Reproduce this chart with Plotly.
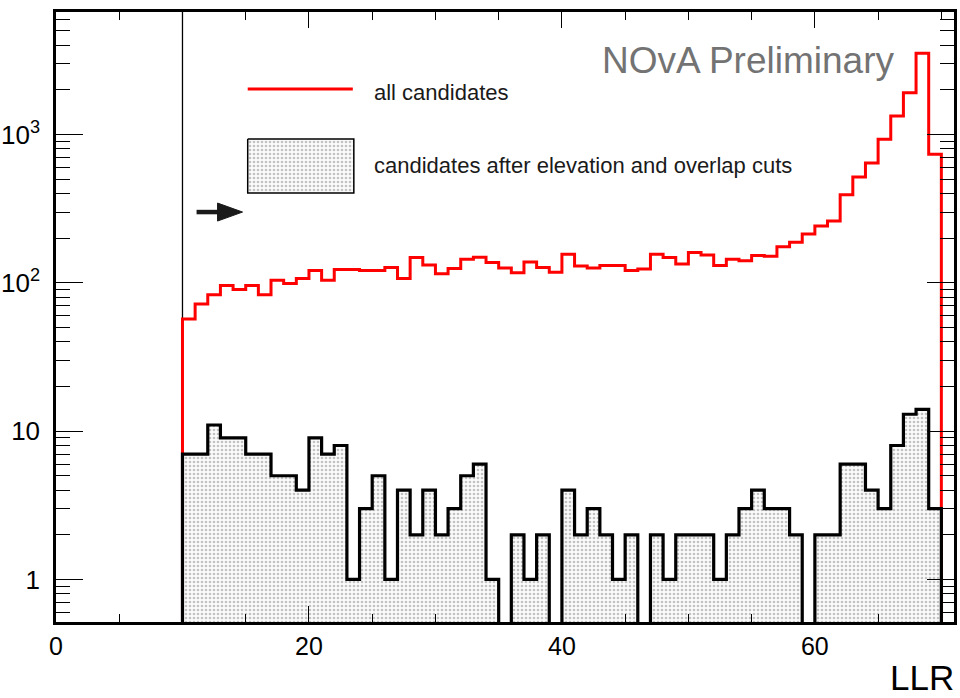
import plotly.graph_objects as go

# ---------------- data ----------------
bin_edges = list(range(0, 71))  # LLR bins of width 1 from 0 to 70
all_candidates = [0, 0, 0, 0, 0, 0, 0, 0, 0, 0,
                  57, 72, 83, 96, 90, 96, 83, 104, 99, 107,
                  121, 104, 123, 123, 121, 121, 127, 107, 148, 132,
                  115, 125, 144, 149, 137, 126, 117, 138, 127, 118,
                  156, 130, 126, 131, 131, 121, 124, 156, 148, 134,
                  160, 154, 131, 144, 141, 153, 151, 175, 188, 213,
                  242, 261, 392, 517, 643, 928, 1333, 1914, 3528, 735]
after_cuts = [0, 0, 0, 0, 0, 0, 0, 0, 0, 0,
              7, 7, 11, 9, 9, 7, 7, 5, 5, 4,
              9, 7, 8, 1, 3, 5, 1, 4, 2, 4,
              2, 3, 5, 6, 1, 0, 2, 1, 2, 0,
              4, 2, 3, 2, 1, 2, 0, 2, 1, 2,
              2, 2, 1, 2, 3, 4, 3, 3, 2, 0,
              2, 2, 6, 6, 4, 3, 8, 13, 14, 3]
x_tick_vals = [0, 20, 40, 60]
x_tick_text = ["0", "20", "40", "60"]
y_tick_vals = [1, 10, 100, 1000]
y_tick_text = ["1", "10", "10<sup>2</sup>", "10<sup>3</sup>"]
y_minor_vals = [0.6, 0.7, 0.8, 0.9] + [m * d for d in (1, 10, 100, 1000) for m in range(2, 10)]
cut_value = 10
legend_labels = ["all candidates", "candidates after elevation and overlap cuts"]

X_RANGE = [0, 71]
Y_RANGE = [-0.287, 3.826]  # log10 units
FLOOR = 1e-3  # empty bins drawn below the visible range


def steps(edges, vals):
    xs, ys = [], []
    for i, v in enumerate(vals):
        yv = v if v > 0 else FLOOR
        xs += [edges[i], edges[i + 1]]
        ys += [yv, yv]
    return xs, ys


PATTERN = dict(shape=".", fgcolor="#8a8a8a", bgcolor="#fbfbfb", size=4, solidity=0.35)

fig = go.Figure()

# red: all candidates
rx, ry = steps(bin_edges, all_candidates)
rx = [rx[0]] + rx + [rx[-1]]
ry = [FLOOR] + ry + [FLOOR]
fig.add_trace(go.Scatter(x=rx, y=ry, mode="lines",
                         line=dict(color="#ff0000", width=3), showlegend=False,
                         hoverinfo="skip"))

# gray: after cuts
gx, gy = steps(bin_edges, after_cuts)
gx = [gx[0]] + gx + [gx[-1], gx[0]]
gy = [FLOOR] + gy + [FLOOR, FLOOR]
fig.add_trace(go.Scatter(x=gx, y=gy, mode="lines", fill="toself",
                         fillcolor="#fbfbfb", fillpattern=PATTERN,
                         line=dict(color="black", width=3.2), showlegend=False,
                         hoverinfo="skip"))

# ---- legend (manual, ROOT TLegend style) ----
PW, PH = 897.0, 610.0
L = 56.5


def px(xp):
    return (xp - L) / PW


def py(yp):
    return (622.0 - yp) / PH


bx0, bx1, by0, by1 = px(248), px(354), py(139), py(193)
fig.add_trace(go.Scatter(x=[bx0, bx1, bx1, bx0, bx0], y=[by0, by0, by1, by1, by0],
                         xaxis="x2", yaxis="y2", mode="lines", fill="toself",
                         fillcolor="#fbfbfb", fillpattern=PATTERN,
                         line=dict(color="black", width=1.5), showlegend=False,
                         hoverinfo="skip"))

shapes = [
    # cut line at LLR = 10
    dict(type="line", xref="x", yref="paper", x0=cut_value, x1=cut_value, y0=0, y1=1,
         line=dict(color="black", width=1.3), layer="below"),
    # legend red line
    dict(type="line", xref="paper", yref="paper", x0=px(248), x1=px(353), y0=py(89), y1=py(89),
         line=dict(color="#ff0000", width=3)),
]

# arrow pointing to accepted region (tip position in data coordinates)
arrow_tip_x = 14.75
arrow_tip_y = 300
shapes.append(dict(type="line", xref="x", yref="y", xsizemode="pixel", ysizemode="pixel",
                   xanchor=arrow_tip_x, yanchor=arrow_tip_y,
                   x0=-46, x1=-20, y0=0, y1=0, line=dict(color="#1a1a1a", width=4.5)))
shapes.append(dict(type="path", xref="x", yref="y", xsizemode="pixel", ysizemode="pixel",
                   xanchor=arrow_tip_x, yanchor=arrow_tip_y,
                   path="M -25,-9 L 0,0 L -25,9 Z", fillcolor="#1a1a1a",
                   line=dict(color="#1a1a1a", width=1)))

annotations = [
    dict(text=legend_labels[0], xref="paper", yref="paper", x=px(372), y=py(92),
         xanchor="left", yanchor="middle", showarrow=False,
         font=dict(family="Liberation Sans", size=22, color="#1a1a1a")),
    dict(text=legend_labels[1], xref="paper", yref="paper", x=px(372), y=py(166),
         xanchor="left", yanchor="middle", showarrow=False,
         font=dict(family="Liberation Sans", size=22, color="#1a1a1a")),
    dict(text="NOvA Preliminary", xref="paper", yref="paper", x=px(896), y=py(60),
         xanchor="right", yanchor="middle", showarrow=False,
         font=dict(family="Liberation Sans", size=37, color="#737373")),
    dict(text="LLR", xref="paper", yref="paper", x=px(955), y=py(677),
         xanchor="right", yanchor="middle", showarrow=False,
         font=dict(family="Liberation Sans", size=35, color="black")),
]

fig.update_layout(
    width=960, height=698,
    margin=dict(l=56, r=6, t=12, b=76),
    paper_bgcolor="white", plot_bgcolor="white",
    shapes=shapes, annotations=annotations,
    font=dict(family="Liberation Sans", color="black"),
    xaxis=dict(range=X_RANGE, showgrid=False, zeroline=False, automargin=False,
               showline=True, linecolor="black", linewidth=2.5, mirror="allticks",
               ticks="inside", ticklen=16, tickwidth=1.3, tickcolor="black",
               tickmode="array", tickvals=x_tick_vals, ticktext=x_tick_text,
               tickfont=dict(size=25, family="Liberation Sans"),
               minor=dict(ticks="inside", ticklen=8, dtick=5, tick0=0,
                          tickwidth=1.3, tickcolor="black", showgrid=False)),
    yaxis=dict(type="log", range=Y_RANGE, showgrid=False, zeroline=False, automargin=False,
               showline=True, linecolor="black", linewidth=2.5, mirror="allticks",
               ticks="inside", ticklen=27, tickwidth=1.3, tickcolor="black",
               tickmode="array", tickvals=y_tick_vals, ticktext=y_tick_text,
               tickfont=dict(size=26, family="Liberation Sans"), ticklabelstandoff=8,
               minor=dict(ticks="inside", ticklen=14, tickmode="array", tickvals=y_minor_vals,
                          tickwidth=1.3, tickcolor="black", showgrid=False)),
    xaxis2=dict(overlaying="x", range=[0, 1], visible=False, fixedrange=True, anchor="y2"),
    yaxis2=dict(overlaying="y", range=[0, 1], visible=False, fixedrange=True, anchor="x2"),
)

fig.write_html("out.html")
